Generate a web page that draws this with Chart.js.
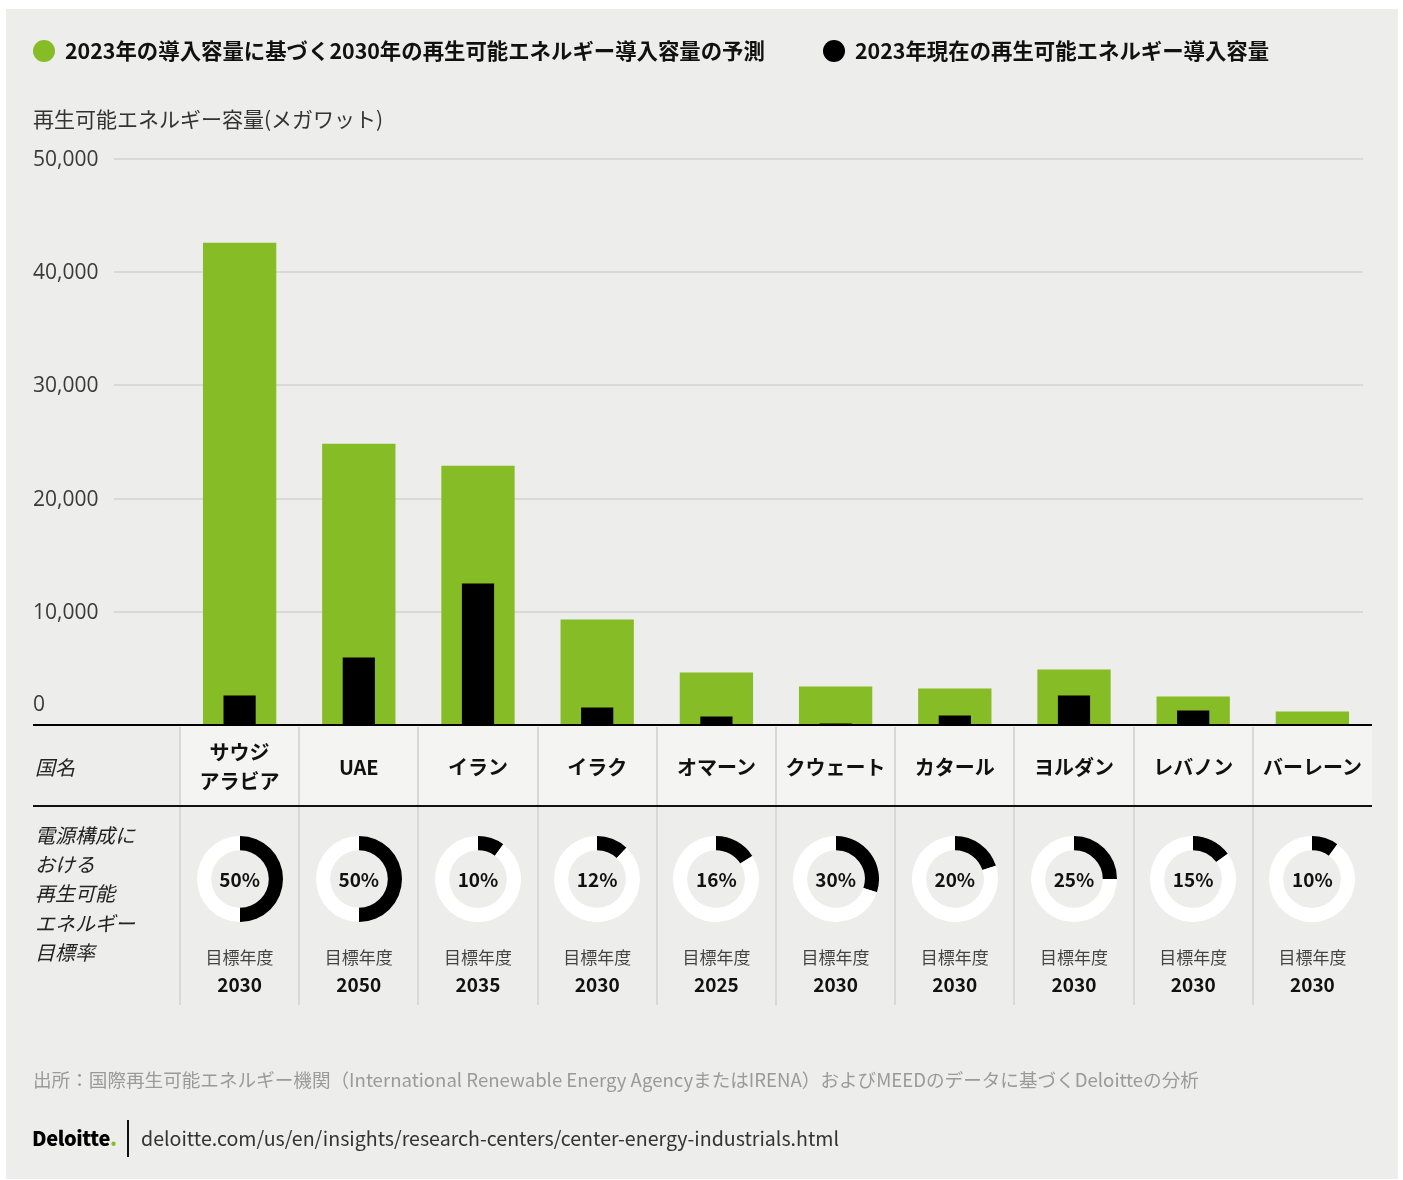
<!DOCTYPE html>
<html><head><meta charset="utf-8">
<script src="https://cdn.jsdelivr.net/npm/chart.js@4.4.1/dist/chart.umd.min.js"></script>
<style>
html,body{margin:0;padding:0;}
body{background:#fff;width:1403px;height:1180px;position:relative;overflow:hidden;font-family:"Noto Sans CJK JP","Open Sans",sans-serif;color:#111;}
#panel{position:absolute;left:6px;top:9px;width:1392px;height:1170px;background:#ededeb;}
#main{position:absolute;left:0;top:0;}
.abs{position:absolute;white-space:nowrap;}
.ctr{display:flex;align-items:center;justify-content:center;text-align:center;}
</style></head><body>
<div id="panel"></div>
<div id="under"></div>
<canvas id="main" width="1403" height="1180"></canvas>
<div id="overlay"></div>
<script>
// ---------- DATA ----------
const countries = ['サウジアラビア','UAE','イラン','イラク','オマーン','クウェート','カタール','ヨルダン','レバノン','バーレーン'];
const countryDisplay = [['サウジ','アラビア'],['UAE'],['イラン'],['イラク'],['オマーン'],['クウェート'],['カタール'],['ヨルダン'],['レバノン'],['バーレーン']];
const projected2030 = [42600, 24850, 22900, 9320, 4640, 3410, 3230, 4910, 2520, 1200];
const current2023 = [2600, 5970, 12500, 1550, 760, 140, 850, 2610, 1290, 0];
const targetShares = [50, 50, 10, 12, 16, 30, 20, 25, 15, 10];
const targetYears = ['2030','2050','2035','2030','2025','2030','2030','2030','2030','2030'];
const yTickValues = [0, 10000, 20000, 30000, 40000, 50000];
const yTickLabels = ['0','10,000','20,000','30,000','40,000','50,000'];
const seriesLabels = ['2023年の導入容量に基づく2030年の再生可能エネルギー導入容量の予測','2023年現在の再生可能エネルギー導入容量'];
const yTitle = '再生可能エネルギー容量(メガワット)';
const rowLabel1 = '国名';
const rowLabel2 = ['電源構成に','おける','再生可能','エネルギー','目標率'];
const yearLabel = '目標年度';
const sourceText = '出所：国際再生可能エネルギー機関（International Renewable Energy AgencyまたはIRENA）およびMEEDのデータに基づくDeloitteの分析';
const urlText = 'deloitte.com/us/en/insights/research-centers/center-energy-industrials.html';

const GREEN = '#86bc25';

function el(parent, css, text){
  const d = document.createElement('div');
  d.className = 'abs';
  d.style.cssText += css;
  if (text !== undefined) d.textContent = text;
  parent.appendChild(d);
  return d;
}

const gridPlugin = {
  id: 'customGrid',
  beforeDatasetsDraw(c){
    const y = c.scales.y, ctx = c.ctx;
    ctx.save();
    ctx.strokeStyle = '#d9d9d7'; ctx.lineWidth = 2;
    y.ticks.forEach(t => {
      if (t.value === 0) return;
      const py = Math.round(y.getPixelForValue(t.value));
      ctx.beginPath(); ctx.moveTo(114, py); ctx.lineTo(1363, py); ctx.stroke();
    });
    ctx.fillStyle = '#3a3a3a';
    ctx.font = '21px "Open Sans"';
    ctx.textAlign = 'left'; ctx.textBaseline = 'middle';
    y.ticks.forEach(t => {
      const py = y.getPixelForValue(t.value);
      const idx = yTickValues.indexOf(t.value);
      ctx.fillText(yTickLabels[idx], 33, t.value === 0 ? py - 20 : py + 1);
    });
    ctx.restore();
  },
  afterDatasetsDraw(c){
    const y = c.scales.y, ctx = c.ctx;
    const py = Math.round(y.getPixelForValue(0));
    ctx.save();
    ctx.strokeStyle = '#000'; ctx.lineWidth = 2;
    ctx.beginPath(); ctx.moveTo(33, py); ctx.lineTo(1372, py); ctx.stroke();
    ctx.restore();
  }
};

const chart = new Chart(document.getElementById('main'), {
  type: 'bar',
  data: {
    labels: countries,
    datasets: [
      { label: seriesLabels[0], data: projected2030, backgroundColor: GREEN, barPercentage: 0.615, categoryPercentage: 1, grouped: false, order: 2 },
      { label: seriesLabels[1], data: current2023, backgroundColor: '#000', barPercentage: 0.27, categoryPercentage: 1, grouped: false, order: 1 }
    ]
  },
  options: {
    responsive: false, animation: false, devicePixelRatio: 1,
    layout: { padding: { top: 159, bottom: 455, left: 33, right: 31 } },
    plugins: { legend: { display: false }, tooltip: { enabled: false } },
    scales: {
      x: { display: false },
      y: {
        min: 0, max: 50000,
        afterBuildTicks(s){ s.ticks = yTickValues.map(v => ({ value: v })); },
        ticks: { display: false },
        grid: { display: false }, border: { display: false },
        afterFit(s){ s.width = 147; }
      }
    }
  },
  plugins: [gridPlugin]
});

// ---------- overlays ----------
const ov = document.getElementById('overlay');
const under = document.getElementById('under');

// legend
const legX = [33, 823];
chart.data.datasets.forEach((ds, i) => {
  el(ov, `left:${legX[i]}px;top:40px;width:22px;height:22px;border-radius:50%;background:${ds.backgroundColor};`);
  el(ov, `left:${legX[i] + 32}px;top:33px;height:34px;line-height:34px;font-size:21.4px;font-weight:700;color:#111;`, ds.label);
});

// y title
el(ov, `left:33px;top:102px;height:32px;line-height:32px;font-size:21px;color:#333;`, yTitle);

// table
const xs = chart.scales.x;
const colW = xs.getPixelForValue(1) - xs.getPixelForValue(0);
const tableRight = 1372;
countries.forEach((c, i) => {
  const cx = xs.getPixelForValue(i);
  el(under, `left:${cx - colW / 2}px;top:726px;width:${colW}px;height:80px;background:#f4f4f3;`);
});
for (let i = 0; i < countries.length; i++) {
  const left = Math.round(xs.getPixelForValue(i) - colW / 2);
  el(ov, `left:${left - 1}px;top:727px;width:2px;height:278px;background:#d8d8d6;`);
}
el(ov, `left:33px;top:805px;width:${tableRight - 33}px;height:2px;background:#111;`);

el(ov, `left:35px;top:751px;height:32px;line-height:32px;font-size:20px;font-style:italic;color:#222;`, rowLabel1);
rowLabel2.forEach((t, k) => {
  el(ov, `left:35px;top:${820 + k * 29.2}px;height:30px;line-height:30px;font-size:20px;font-style:italic;color:#222;`, t);
});

countries.forEach((c, i) => {
  const cx = xs.getPixelForValue(i);
  const left = cx - colW / 2;
  const nm = el(ov, `left:${left}px;top:736px;width:${colW}px;height:60px;font-size:20px;font-weight:700;color:#111;line-height:29px;flex-direction:column;`);
  nm.classList.add('ctr');
  countryDisplay[i].forEach(line => { const s = document.createElement('div'); s.textContent = line; nm.appendChild(s); });

  const holder = el(ov, `left:${cx - 43}px;top:${879 - 43}px;width:86px;height:86px;`);
  const cv = document.createElement('canvas');
  cv.width = 86; cv.height = 86;
  holder.appendChild(cv);
  new Chart(cv, {
    type: 'doughnut',
    data: { labels: ['目標', 'その他'], datasets: [{ data: [targetShares[i], 100 - targetShares[i]], backgroundColor: ['#000', '#fff'], borderWidth: 0 }] },
    options: { responsive: false, animation: false, devicePixelRatio: 1, cutout: '67%', plugins: { legend: { display: false }, tooltip: { enabled: false } } }
  });
  const pct = el(ov, `left:${cx - 40}px;top:862px;width:80px;height:32px;font-size:19px;font-weight:700;color:#111;`, targetShares[i] + '%');
  pct.classList.add('ctr');
  const yl = el(ov, `left:${left}px;top:941px;width:${colW}px;height:30px;font-size:17px;color:#444;`, yearLabel);
  yl.classList.add('ctr');
  const yr = el(ov, `left:${left}px;top:968px;width:${colW}px;height:30px;font-size:19px;font-weight:700;color:#111;`, targetYears[i]);
  yr.classList.add('ctr');
});

// footer
el(ov, `left:33px;top:1064px;height:30px;line-height:30px;font-size:18.6px;color:#9a9a9a;`, sourceText);
const logo = el(ov, `left:32px;top:1122px;height:32px;line-height:32px;font-size:20px;font-weight:900;color:#000;letter-spacing:-0.4px;`);
logo.innerHTML = 'Deloitte<span style="color:' + GREEN + '">.</span>';
el(ov, `left:127px;top:1120px;width:2px;height:37px;background:#111;`);
el(ov, `left:141px;top:1122px;height:32px;line-height:32px;font-size:19.6px;color:#333;`, urlText);
</script>
</body></html>
